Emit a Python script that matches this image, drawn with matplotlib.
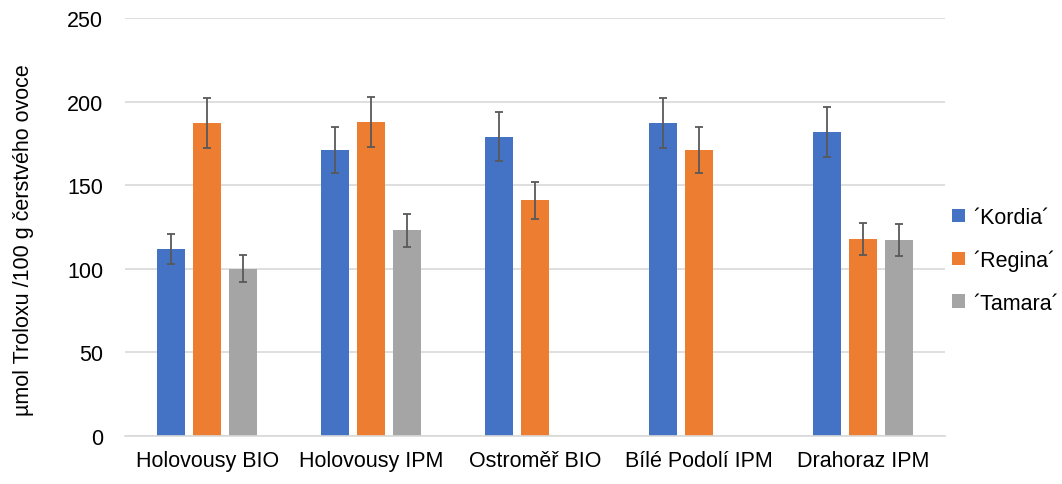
import matplotlib
matplotlib.use("Agg")
import matplotlib.pyplot as plt
import numpy as np

plt.rcParams['font.family'] = ['Liberation Sans', 'DejaVu Sans']

categories = ["Holovousy BIO", "Holovousy IPM", "Ostroměř BIO", "Bílé Podolí IPM", "Drahoraz IPM"]
series_names = ["´Kordia´", "´Regina´", "´Tamara´"]
kordia = [112, 171, 179, 187, 182]
kordia_err = [9, 14, 14.5, 15, 15]
regina = [187, 188, 141, 171, 118]
regina_err = [15, 15, 11, 14, 9.5]
tamara = [100, 123, np.nan, np.nan, 117]
tamara_err = [8, 10, np.nan, np.nan, 9.5]
colors = ["#4472C4", "#ED7D31", "#A5A5A5"]
yticks = [0, 50, 100, 150, 200, 250]

fig = plt.figure(figsize=(10.62, 4.85), dpi=100)
ax = fig.add_axes([0.118, 0.099, 0.772, 0.862])

x = np.arange(len(categories))
width = 0.17
pitch = 0.22
for i, (vals, errs, name, c) in enumerate(zip([kordia, regina, tamara],
                                              [kordia_err, regina_err, tamara_err],
                                              series_names, colors)):
    pos = x + (i - 1) * pitch
    ax.bar(pos, vals, width, color=c, label=name, zorder=2)
    ax.errorbar(pos, vals, yerr=errs, fmt='none', ecolor='#595959',
                elinewidth=1.3, capsize=3, capthick=1.3, zorder=3)

ax.set_xlim(-0.5, len(categories) - 0.5)
ax.set_ylim(0, 250)
ax.set_yticks(yticks)
ax.set_xticks(x)
ax.set_xticklabels(categories, fontsize=15.5)
ax.tick_params(axis='y', labelsize=15.5, length=0, pad=16)
ax.tick_params(axis='x', length=0, pad=10)
ax.yaxis.grid(True, color='#D9D9D9', linewidth=1.2, zorder=0)
ax.set_axisbelow(True)
for s in ['top', 'right', 'left']:
    ax.spines[s].set_visible(False)
ax.spines['bottom'].set_color('#D9D9D9')
ax.spines['bottom'].set_linewidth(1.2)
ax.set_ylabel("µmol Troloxu /100 g čerstvého ovoce", fontsize=15.5)
ax.yaxis.set_label_coords(-0.111, 0.47)

ax.legend(loc='center left', bbox_to_anchor=(0.99, 0.42), frameon=False,
          fontsize=15.5, handlelength=0.6, handleheight=0.6, labelspacing=1.0,
          handletextpad=0.4, borderaxespad=0.3)

fig.savefig("out.png", dpi=100)
